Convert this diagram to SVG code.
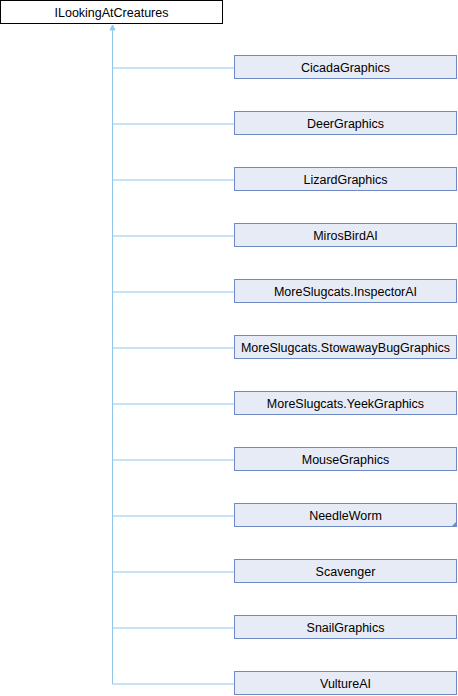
<svg xmlns="http://www.w3.org/2000/svg" width="458" height="696" viewBox="0 0 458 696">
<style>
.bg{fill:#ffffff}
.n rect{fill:#e7ebf5;stroke:#6e8bc8;stroke-width:1}
.root rect{fill:#ffffff;stroke:#000000;stroke-width:1}
text{font-family:"Liberation Sans",Arial,sans-serif;font-size:12.5px;fill:#000000;text-anchor:middle}
.c{fill:none;stroke:#8fc8ea;stroke-width:1}
.ah{fill:#8fc8ea;stroke:#8fc8ea;stroke-width:1}
</style>
<rect class="bg" x="0" y="0" width="458" height="696"/>
<g id="connectors">
<path class="c" d="M112.5,684 V27"/>
<path class="ah" d="M112.5,25 l-2.5,5 h5 Z"/>
<path class="c" d="M112.5,68 H234"/>
<path class="c" d="M112.5,124 H234"/>
<path class="c" d="M112.5,180 H234"/>
<path class="c" d="M112.5,236 H234"/>
<path class="c" d="M112.5,292 H234"/>
<path class="c" d="M112.5,348 H234"/>
<path class="c" d="M112.5,404 H234"/>
<path class="c" d="M112.5,460 H234"/>
<path class="c" d="M112.5,516 H234"/>
<path class="c" d="M112.5,572 H234"/>
<path class="c" d="M112.5,628 H234"/>
<path class="c" d="M112.5,684 H234"/>
</g>
<g id="ILookingAtCreatures" class="root"><rect x="0.5" y="0.5" width="222" height="23"/><text x="111.5" y="16.5">ILookingAtCreatures</text></g>
<g id="CicadaGraphics" class="n"><rect x="234.5" y="55.5" width="222" height="23"/><text x="345.5" y="71.5">CicadaGraphics</text></g>
<g id="DeerGraphics" class="n"><rect x="234.5" y="111.5" width="222" height="23"/><text x="345.5" y="127.5">DeerGraphics</text></g>
<g id="LizardGraphics" class="n"><rect x="234.5" y="167.5" width="222" height="23"/><text x="345.5" y="183.5">LizardGraphics</text></g>
<g id="MirosBirdAI" class="n"><rect x="234.5" y="223.5" width="222" height="23"/><text x="345.5" y="239.5">MirosBirdAI</text></g>
<g id="InspectorAI" class="n"><rect x="234.5" y="279.5" width="222" height="23"/><text x="345.5" y="295.5">MoreSlugcats.InspectorAI</text></g>
<g id="StowawayBugGraphics" class="n"><rect x="234.5" y="335.5" width="222" height="23"/><text x="345.5" y="351.5">MoreSlugcats.StowawayBugGraphics</text></g>
<g id="YeekGraphics" class="n"><rect x="234.5" y="391.5" width="222" height="23"/><text x="345.5" y="407.5">MoreSlugcats.YeekGraphics</text></g>
<g id="MouseGraphics" class="n"><rect x="234.5" y="447.5" width="222" height="23"/><text x="345.5" y="463.5">MouseGraphics</text></g>
<g id="NeedleWorm" class="n"><rect x="234.5" y="503.5" width="222" height="23"/><text x="345.5" y="519.5">NeedleWorm</text><path d="M457,521 V527 H451 Z" fill="#6e8bc8"/></g>
<g id="Scavenger" class="n"><rect x="234.5" y="559.5" width="222" height="23"/><text x="345.5" y="575.5">Scavenger</text></g>
<g id="SnailGraphics" class="n"><rect x="234.5" y="615.5" width="222" height="23"/><text x="345.5" y="631.5">SnailGraphics</text></g>
<g id="VultureAI" class="n"><rect x="234.5" y="671.5" width="222" height="23"/><text x="345.5" y="687.5">VultureAI</text></g>
</svg>
